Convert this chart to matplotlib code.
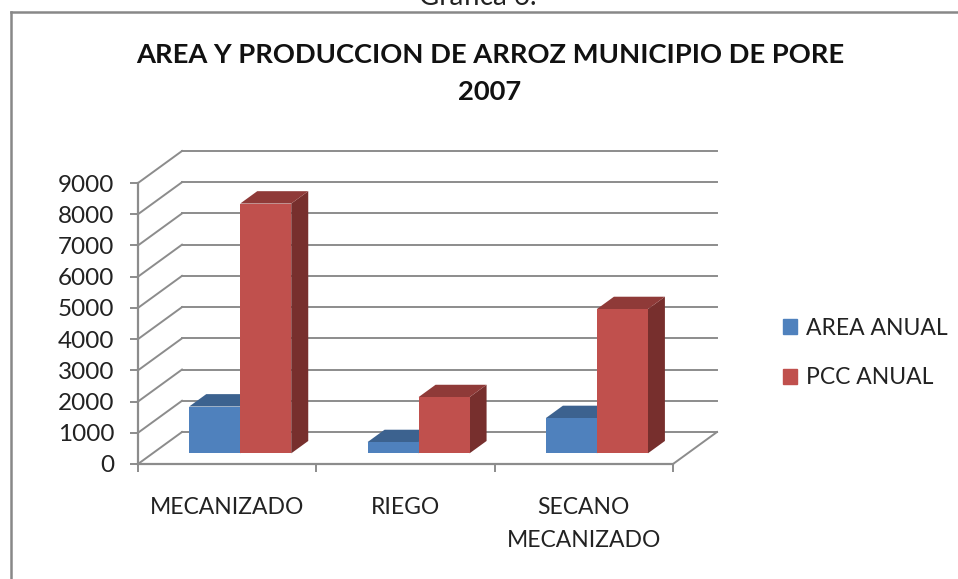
import matplotlib
matplotlib.use("Agg")
import matplotlib.pyplot as plt
from matplotlib.lines import Line2D
from matplotlib.patches import Patch

plt.rcParams['font.family'] = ['Lato', 'DejaVu Sans']

# Data
categories = ["MECANIZADO", "RIEGO", "SECANO\nMECANIZADO"]
area_anual = [1500, 360, 1130]
pcc_anual = [8000, 1800, 4620]
y_ticks = [0, 1000, 2000, 3000, 4000, 5000, 6000, 7000, 8000, 9000]

W, H = 958, 579
grey = '#8c8c8c'
text_col = '#222222'

fig = plt.figure(figsize=(W / 100, H / 100), dpi=100)
ax = fig.add_axes([138 / W, 1 - 464 / H, (673 - 138) / W, (464 - 183) / H])
ax.set_xlim(0, 3)
ax.set_ylim(0, 9000)

# full depth of the fake 3D box, in data units
DX = 44 / 535 * 3
DY = 32 / 281 * 9000


def project(x, y, d):
    return x + d * DX, y + d * DY


def wall_line(x0, x1, y, d0, d1):
    a = project(x0, y, d0)
    b = project(x1, y, d1)
    ax.plot([a[0], b[0]], [a[1], b[1]], color=grey, lw=1.4, clip_on=False, zorder=1)


def box(x0, x1, top, front, side, roof):
    d0, d1 = 1 / 3, 0.72
    faces = [
        ([(x1, 0, d0), (x1, 0, d1), (x1, top, d1), (x1, top, d0)], side),
        ([(x0, top, d0), (x1, top, d0), (x1, top, d1), (x0, top, d1)], roof),
        ([(x0, 0, d0), (x1, 0, d0), (x1, top, d0), (x0, top, d0)], front),
    ]
    for pts, col in faces:
        xy = [project(*p) for p in pts]
        ax.fill([p[0] for p in xy], [p[1] for p in xy], color=col, lw=0, clip_on=False, zorder=3)


# back wall and left wall
for v in y_ticks:
    wall_line(0, 3, v, 1, 1)
    wall_line(0, 0, v, 0, 1)
wall_line(3, 3, 0, 0, 1)

# bars
bar_w = 0.286
bar_start = 0.205
for i in range(len(categories)):
    x = i + bar_start
    box(x, x + bar_w, area_anual[i], '#4f81bd', '#3a5f8c', '#3c628f')
    box(x + bar_w, x + 2 * bar_w, pcc_anual[i], '#c0504d', '#772f2d', '#8f3a38')

# axes
for s in ['top', 'right']:
    ax.spines[s].set_visible(False)
for s in ['left', 'bottom']:
    ax.spines[s].set_color(grey)
    ax.spines[s].set_linewidth(1.6)
ax.patch.set_alpha(0)

ax.set_yticks(y_ticks)
ax.set_yticklabels([str(v) for v in y_ticks])
ax.tick_params(axis='y', length=6, width=1.4, color=grey, pad=11, labelsize=17.5, labelcolor=text_col)
ax.set_xticks([0, 1, 2, 3])
ax.set_xticklabels([])
ax.tick_params(axis='x', length=6, width=1.4, color=grey)
ax.set_xticks([0.5, 1.5, 2.5], minor=True)
ax.set_xticklabels(categories, minor=True, linespacing=1.7)
ax.tick_params(axis='x', which='minor', length=0, pad=24, labelsize=16.5, labelcolor=text_col)

# legend
handles = [Patch(color='#4f81bd', label="AREA ANUAL"), Patch(color='#c0504d', label="PCC ANUAL")]
fig.legend(handles=handles, loc='upper left', bbox_to_anchor=(762 / W, 1 - 297 / H), frameon=False,
           fontsize=16.5, handlelength=0.62, handleheight=0.62, handletextpad=0.42,
           labelspacing=1.25, labelcolor=text_col)

# titles and outer frame
fig.text(478 / W, 1 - 5 / H, "Grafica 6.", ha='center', va='baseline', fontsize=20, color=text_col)
fig.text(490 / W, 1 - 55 / H, "AREA Y PRODUCCION DE ARROZ MUNICIPIO DE PORE", ha='center', va='center',
         fontsize=19.7, fontweight='bold', color='#111111')
fig.text(490 / W, 1 - 92 / H, "2007", ha='center', va='center',
         fontsize=19.7, fontweight='bold', color='#111111')

fig.add_artist(Line2D([10.5 / W, 10.5 / W], [0, 1 - 12 / H], color='#888888', lw=1.8))
fig.add_artist(Line2D([10.5 / W, 1], [1 - 12 / H, 1 - 12 / H], color='#888888', lw=1.8))

fig.savefig("out.png", dpi=100)
